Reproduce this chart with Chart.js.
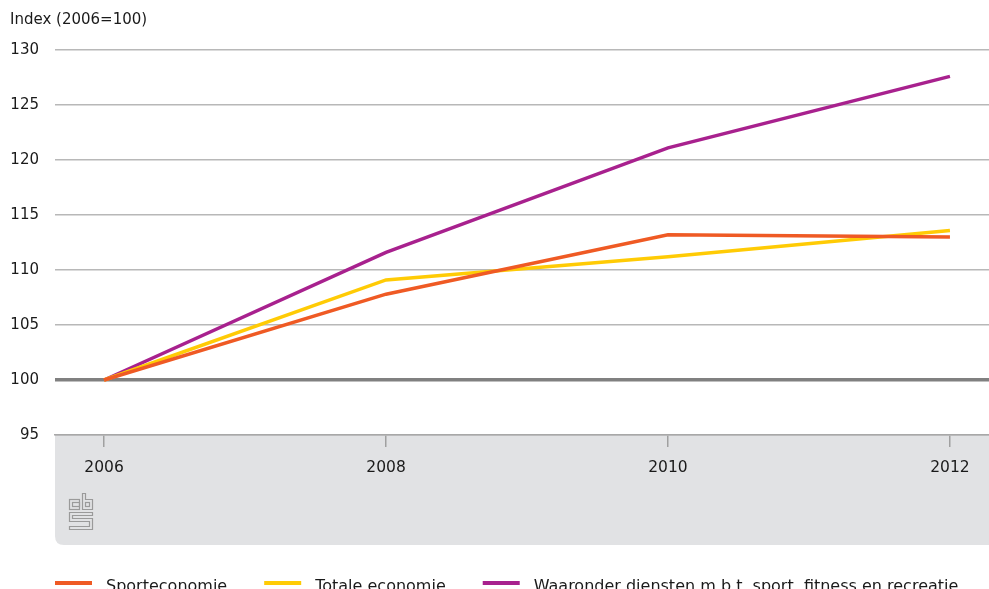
<!DOCTYPE html>
<html>
<head>
<meta charset="utf-8">
<script src="https://cdn.jsdelivr.net/npm/chart.js@4.4.1/dist/chart.umd.min.js"></script>
<style>
  html, body { margin: 0; padding: 0; background: #fff; }
  #wrap { width: 989px; height: 589px; }
</style>
</head>
<body>
<div id="wrap"><canvas id="myChart" width="989" height="589"></canvas></div>
<script>
const years = [2006, 2008, 2010, 2012];
const sporteconomie = [100, 107.8, 113.2, 113.0];
const totaleEconomie = [100, 109.1, 111.2, 113.6];
const waaronder = [100, 111.6, 121.1, 127.6];
const yTitle = 'Index (2006=100)';

const FONT = "'DejaVu Sans', sans-serif";

function pts(values) {
    return years.map((y, i) => ({ x: y, y: values[i] }));
}

// grey band under the plot, axis title, cbs logo and the legend
const decor = {
    id: 'decor',
    beforeDraw(chart) {
        const c = chart.ctx;
        const a = chart.chartArea;
        const xs = chart.scales.x;
        c.save();
        c.fillStyle = '#e1e2e4';
        const top = a.bottom, bot = xs.bottom, l = a.left, r = chart.width, rad = 9;
        c.beginPath();
        c.moveTo(l, top);
        c.lineTo(r, top);
        c.lineTo(r, bot);
        c.lineTo(l + rad, bot);
        c.quadraticCurveTo(l, bot, l, bot - rad);
        c.closePath();
        c.fill();
        c.restore();
    },
    afterDraw(chart) {
        const c = chart.ctx;
        c.save();
        // axis title
        c.fillStyle = '#1a1a1a';
        c.font = '15px ' + FONT;
        c.textBaseline = 'middle';
        c.textAlign = 'left';
        c.fillText(yTitle, 10, 20);

        // cbs logo
        c.strokeStyle = '#9a9a9a';
        c.lineWidth = 1.2;
        c.strokeRect(69.5, 499.5, 10, 10);
        c.strokeRect(72.5, 502.5, 7, 4);
        c.beginPath();
        c.moveTo(82.5, 493.5); c.lineTo(85.5, 493.5); c.lineTo(85.5, 499.5);
        c.lineTo(92.5, 499.5); c.lineTo(92.5, 509.5); c.lineTo(82.5, 509.5); c.closePath();
        c.stroke();
        c.strokeRect(85.5, 502.5, 4, 4);
        c.beginPath();
        c.moveTo(92.5, 512.5); c.lineTo(69.5, 512.5); c.lineTo(69.5, 521.5);
        c.lineTo(89.5, 521.5); c.lineTo(89.5, 526.5); c.lineTo(69.5, 526.5);
        c.lineTo(69.5, 529.5); c.lineTo(92.5, 529.5); c.lineTo(92.5, 518.5);
        c.lineTo(72.5, 518.5); c.lineTo(72.5, 515.5); c.lineTo(92.5, 515.5); c.closePath();
        c.stroke();

        // legend
        c.font = '16px ' + FONT;
        c.textBaseline = 'alphabetic';
        let x = chart.chartArea.left;
        chart.data.datasets.forEach(ds => {
            c.fillStyle = ds.borderColor;
            c.fillRect(x, 581, 37, 4);
            x += 37 + 14;
            c.fillStyle = '#1a1a1a';
            c.fillText(ds.label, x, 591);
            x += c.measureText(ds.label).width + 37;
        });
        c.restore();
    }
};

const ctx = document.getElementById('myChart');
const myChart = new Chart(ctx, {
    type: 'line',
    data: {
        datasets: [{
            label: 'Sporteconomie',
            data: pts(sporteconomie),
            borderColor: '#ef5a24',
            borderWidth: 3.5
        }, {
            label: 'Totale economie',
            data: pts(totaleEconomie),
            borderColor: '#ffcb05',
            borderWidth: 3.5
        }, {
            label: 'Waaronder diensten m.b.t. sport, fitness en recreatie',
            data: pts(waaronder),
            borderColor: '#a8218e',
            borderWidth: 3.5
        }]
    },
    options: {
        responsive: false,
        animation: false,
        devicePixelRatio: 1,
        layout: { padding: { top: 50, bottom: 44, left: 0, right: 0 } },
        elements: { point: { radius: 0 }, line: { tension: 0 } },
        plugins: {
            legend: { display: false },
            tooltip: { enabled: false }
        },
        scales: {
            x: {
                type: 'linear',
                min: 2005.652,
                max: 2012.277,
                afterBuildTicks: s => { s.ticks = years.map(v => ({ value: v })); },
                afterFit: s => { s.height = 110; },
                grid: { drawOnChartArea: false, drawTicks: true, tickLength: 12, color: '#a0a0a0', lineWidth: 1.5 },
                border: { display: true, color: '#a8a8a8', width: 1.5 },
                ticks: {
                    color: '#1a1a1a',
                    font: { family: FONT, size: 15.5 },
                    padding: 12,
                    maxRotation: 0,
                    callback: v => String(v)
                }
            },
            y: {
                min: 95,
                max: 130,
                afterFit: s => { s.width = 55; },
                grid: {
                    drawTicks: false,
                    color: c => c.tick.value === 100 ? '#808080' : '#b8b8b8',
                    lineWidth: c => c.tick.value === 100 ? 3.5 : 1.5
                },
                border: { display: false },
                ticks: {
                    stepSize: 5,
                    color: '#1a1a1a',
                    font: { family: FONT, size: 15 },
                    padding: 16
                }
            }
        }
    },
    plugins: [decor]
});
</script>
</body>
</html>
